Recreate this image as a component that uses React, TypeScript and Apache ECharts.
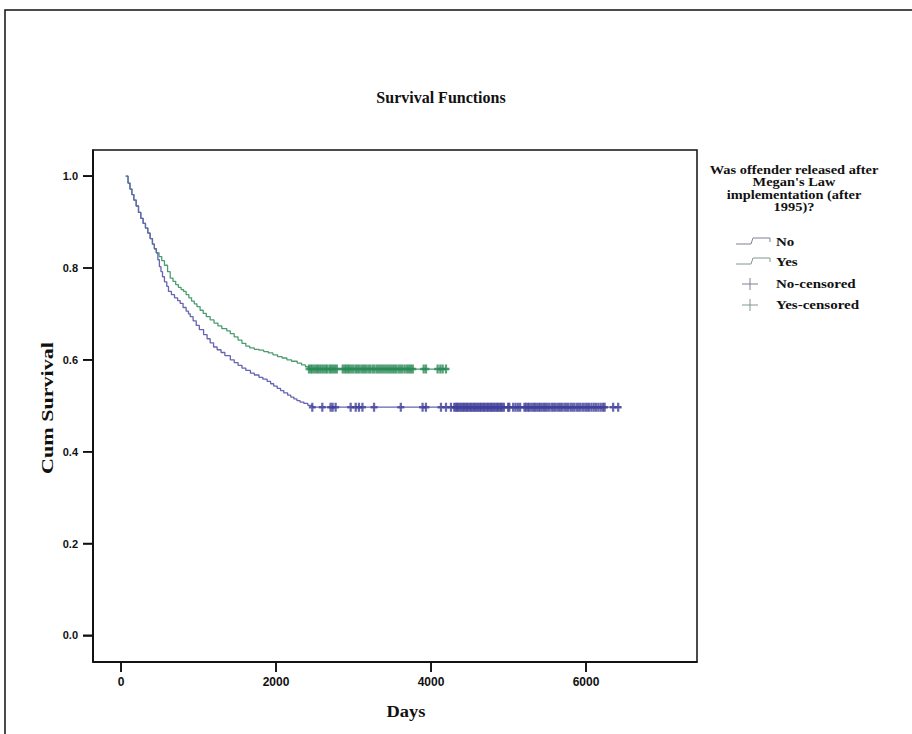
import React, { useEffect, useRef } from "react";
import * as echarts from "echarts";

// Kaplan-Meier step points (days, cumulative survival)
const noDays = [60, 90, 115, 140, 165, 195, 225, 255, 285, 315, 345, 375, 405, 430, 455, 475, 495, 515, 535, 560, 590, 612, 650, 690, 730, 763, 800, 840, 870, 893, 930, 970, 1010, 1065, 1110, 1150, 1194, 1240, 1290, 1340, 1410, 1460, 1510, 1560, 1610, 1669, 1720, 1780, 1830, 1885, 1930, 1970, 2015, 2058, 2100, 2150, 2190, 2230, 2270, 2310, 2359, 2410, 2467, 6450];
const noSurv = [1.0, 0.985, 0.972, 0.96, 0.948, 0.935, 0.921, 0.908, 0.897, 0.887, 0.876, 0.864, 0.852, 0.842, 0.833, 0.818, 0.803, 0.792, 0.781, 0.770, 0.760, 0.749, 0.742, 0.735, 0.729, 0.723, 0.714, 0.706, 0.700, 0.694, 0.685, 0.675, 0.666, 0.655, 0.646, 0.637, 0.628, 0.622, 0.616, 0.609, 0.600, 0.594, 0.588, 0.582, 0.577, 0.571, 0.567, 0.562, 0.558, 0.553, 0.548, 0.543, 0.538, 0.533, 0.528, 0.523, 0.519, 0.515, 0.511, 0.508, 0.505, 0.501, 0.497, 0.497];

const yesDays = [60, 90, 115, 140, 165, 195, 225, 255, 285, 315, 345, 375, 405, 430, 455, 490, 525, 560, 600, 634, 670, 705, 740, 775, 806, 840, 875, 910, 945, 979, 1020, 1060, 1100, 1150, 1200, 1250, 1300, 1365, 1410, 1460, 1510, 1560, 1610, 1660, 1720, 1780, 1841, 1900, 1960, 2020, 2079, 2140, 2200, 2273, 2330, 2380, 2424, 4230];
const yesSurv = [1.0, 0.985, 0.972, 0.96, 0.948, 0.935, 0.921, 0.908, 0.897, 0.887, 0.876, 0.864, 0.852, 0.842, 0.833, 0.825, 0.816, 0.806, 0.792, 0.778, 0.771, 0.764, 0.758, 0.753, 0.749, 0.742, 0.735, 0.728, 0.722, 0.716, 0.708, 0.701, 0.694, 0.687, 0.680, 0.674, 0.668, 0.663, 0.657, 0.650, 0.643, 0.636, 0.630, 0.626, 0.623, 0.621, 0.618, 0.615, 0.611, 0.607, 0.604, 0.600, 0.597, 0.593, 0.589, 0.585, 0.580, 0.580];

// censored observation times
const noCensored = [2468, 2597, 2704, 2730, 2769, 2963, 3028, 3070, 3115, 3265, 3610, 3891, 3934, 4128, 4193, 4257,
  4300, 4318, 4335, 4352, 4370, 4390, 4408, 4425, 4445, 4462, 4480, 4500, 4518, 4535, 4555, 4572, 4590, 4610, 4628, 4645,
  4665, 4682, 4700, 4720, 4738, 4755, 4775, 4792, 4810, 4830, 4848, 4865, 4885, 4902, 4920, 4940,
  4995, 5010, 5060, 5090, 5120, 5150,
  5205, 5225, 5250, 5270, 5295, 5320, 5340, 5365, 5390, 5410, 5435, 5460, 5480, 5505, 5530, 5560, 5585, 5610, 5640, 5665,
  5690, 5720, 5745, 5770, 5800, 5825, 5850, 5880, 5905, 5930, 5960, 5990, 6015, 6040, 6070, 6100, 6130, 6160, 6190, 6220, 6240,
  6350, 6415];
const yesCensored = [2425, 2450, 2470, 2495, 2520, 2540, 2565, 2590, 2615, 2640, 2660, 2690, 2710, 2735, 2760, 2785,
  2860, 2885, 2905, 2930, 2950, 2975, 3000, 3030, 3055, 3080, 3110, 3135, 3160, 3190, 3215, 3245, 3270, 3300, 3325, 3350,
  3375, 3400, 3425, 3450, 3475, 3500, 3525, 3550, 3580, 3605, 3630, 3660, 3690, 3715, 3740, 3765,
  3905, 3935, 4085, 4120, 4150, 4193];

const xTicks = [0, 2000, 4000, 6000];
const yTicks = [0, 0.2, 0.4, 0.6, 0.8, 1.0];

const legendTitle = ["Was offender released after", "Megan's Law", "implementation (after", "1995)?"];
const legendItems = ["No", "Yes", "No-censored", "Yes-censored"];

const NO_LINE = "#6464b2";
const YES_LINE = "#4c9c72";
const NO_MARK = "#40409a";
const YES_MARK = "#2a8a56";

const PLUS = "path://M3.4,0H6.6V3.6H10V6.4H6.6V10H3.4V6.4H0V3.6H3.4Z";

const X_MIN = -362;
const X_MAX = 7432;
const Y_MIN = -0.058;
const Y_MAX = 1.057;

const W = 912;
const H = 734;
const GRID = { left: 93, top: 150, right: 215, bottom: 72 };

export default function App() {
  const ref = useRef<HTMLDivElement>(null);
  useEffect(() => {
    if (!ref.current) return;
    const chart = echarts.init(ref.current, null, { renderer: "svg" });
    const serif = "'Liberation Serif', 'Times New Roman', serif";
    const sans = "'Liberation Sans', Arial, sans-serif";
    const lastNo = noSurv[noSurv.length - 1];
    const lastYes = yesSurv[yesSurv.length - 1];
    const graphic: any[] = [
      { type: "rect", shape: { x: 5, y: 10, width: 1000, height: 1000 }, style: { fill: "none", stroke: "#111", lineWidth: 1.5 } },
      { type: "text", x: 441, y: 97, style: { text: "Survival Functions", font: `bold 16px ${serif}`, fill: "#111", align: "center", verticalAlign: "middle" } },
      { type: "text", x: 406, y: 712, scaleX: 1.15, style: { text: "Days", font: `bold 16px ${serif}`, fill: "#111", align: "center", verticalAlign: "middle" } },
      { type: "text", x: 47, y: 408, rotation: Math.PI / 2, scaleX: 1.3, style: { text: "Cum Survival", font: `bold 17px ${serif}`, fill: "#111", align: "center", verticalAlign: "middle" } },
    ];
    legendTitle.forEach((t, i) => {
      graphic.push({ type: "text", x: 794, y: 170 + i * 12.3, scaleX: 1.2, style: { text: t, font: `bold 12px ${serif}`, fill: "#111", align: "center", verticalAlign: "middle" } });
    });
    const itemY = [242, 262, 284, 305];
    legendItems.forEach((t, i) => {
      const y = itemY[i];
      graphic.push({ type: "text", x: 776, y, scaleX: 1.25, style: { text: t, font: `bold 12px ${serif}`, fill: "#111", align: "left", verticalAlign: "middle" } });
      const c = i % 2 === 0 ? "#80809a" : "#80988a";
      if (i < 2) {
        graphic.push({ type: "polyline", shape: { points: [[736, y + 2], [751, y + 2], [753, y - 4], [770, y - 4], [770, y]] }, style: { stroke: c, lineWidth: 1, fill: "none" } });
      } else {
        graphic.push({ type: "line", shape: { x1: 750, y1: y - 6, x2: 750, y2: y + 6 }, style: { stroke: c, lineWidth: 1 } });
        graphic.push({ type: "line", shape: { x1: 742, y1: y, x2: 758, y2: y }, style: { stroke: c, lineWidth: 1 } });
      }
    });

    // axis ticks as one polyline per axis (runs along the axis with outward spikes)
    const tickLen = 10;
    const plotW = W - GRID.left - GRID.right;
    const plotH = H - GRID.top - GRID.bottom;
    const toPx = (v: number) => GRID.left + ((v - X_MIN) / (X_MAX - X_MIN)) * plotW;
    const toPy = (v: number) => GRID.top + ((Y_MAX - v) / (Y_MAX - Y_MIN)) * plotH;
    const bottomY = GRID.top + plotH;
    const xPts: number[][] = [[GRID.left, bottomY]];
    xTicks.forEach((v) => {
      const x = toPx(v);
      xPts.push([x, bottomY], [x, bottomY + tickLen], [x, bottomY]);
    });
    xPts.push([GRID.left + plotW, bottomY]);
    const yPts: number[][] = [[GRID.left, bottomY]];
    yTicks.forEach((v) => {
      const y = toPy(v);
      yPts.push([GRID.left, y], [GRID.left - tickLen, y], [GRID.left, y]);
    });
    yPts.push([GRID.left, GRID.top]);
    graphic.push({ type: "polyline", shape: { points: xPts }, style: { stroke: "#111", lineWidth: 1.6, fill: "none" } });
    graphic.push({ type: "polyline", shape: { points: yPts }, style: { stroke: "#111", lineWidth: 1.6, fill: "none" } });

    chart.setOption({
      animation: false,
      backgroundColor: "#fff",
      grid: { ...GRID, show: true, borderColor: "#111", borderWidth: 1.5, backgroundColor: "transparent" },
      xAxis: {
        type: "value", min: X_MIN, max: X_MAX,
        axisLine: { show: true, onZero: false, lineStyle: { color: "#111", width: 1.5 } },
        axisTick: { show: true, customValues: xTicks, length: tickLen, lineStyle: { color: "#111", width: 1.5 } },
        axisLabel: { customValues: xTicks, color: "#111", fontFamily: sans, fontWeight: "bold", fontSize: 12, margin: 14, formatter: (v: number) => String(v) },
        splitLine: { show: false },
      },
      yAxis: {
        type: "value", min: Y_MIN, max: Y_MAX,
        axisLine: { show: true, onZero: false, lineStyle: { color: "#111", width: 1.5 } },
        axisTick: { show: true, customValues: yTicks, length: tickLen, lineStyle: { color: "#111", width: 1.5 } },
        axisLabel: { customValues: yTicks, color: "#111", fontFamily: sans, fontWeight: "bold", fontSize: 11, margin: 15, formatter: (v: number) => v.toFixed(1) },
        splitLine: { show: false },
      },
      graphic,
      series: [
        { name: "Yes", type: "line", step: "end", showSymbol: false, data: yesDays.map((d, i) => [d, yesSurv[i]]), lineStyle: { color: YES_LINE, width: 1.3 }, z: 2 },
        { name: "No", type: "line", step: "end", showSymbol: false, data: noDays.map((d, i) => [d, noSurv[i]]), lineStyle: { color: NO_LINE, width: 1.3 }, z: 3 },
        { name: "Yes-censored", type: "scatter", symbol: PLUS, symbolSize: [7, 9], data: yesCensored.map((d) => [d, lastYes]), itemStyle: { color: YES_MARK }, z: 4 },
        { name: "No-censored", type: "scatter", symbol: PLUS, symbolSize: [7, 9], data: noCensored.map((d) => [d, lastNo]), itemStyle: { color: NO_MARK }, z: 4 },
      ],
    });
    return () => chart.dispose();
  }, []);
  return <div ref={ref} style={{ position: "fixed", left: 0, top: 0, width: W, height: H }} />;
}
